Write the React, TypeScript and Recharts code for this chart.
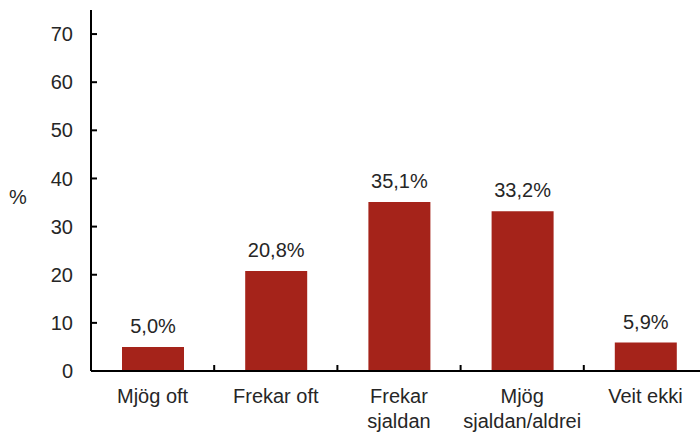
import { BarChart, Bar, XAxis, YAxis, LabelList, Label } from 'recharts';

const categories = ['Mjög oft', 'Frekar oft', 'Frekar sjaldan', 'Mjög sjaldan/aldrei', 'Veit ekki'];
const tickLines: string[][] = [['Mjög oft'], ['Frekar oft'], ['Frekar', 'sjaldan'], ['Mjög', 'sjaldan/aldrei'], ['Veit ekki']];
const values = [5.0, 20.8, 35.1, 33.2, 5.9];
const yTicks = [0, 10, 20, 30, 40, 50, 60, 70];

const data = categories.map((name, i) => ({ name, value: values[i], lines: tickLines[i] }));

const FONT = '"Liberation Sans", Arial, sans-serif';
const TEXT = '#262626';
const BAND = 616 / categories.length;

function formatPct(v: number) {
  return `${v.toFixed(1).replace('.', ',')}%`;
}

const CategoryTick = ({ x, y, index }: { x?: number; y?: number; index?: number }) => {
  const lines = tickLines[index ?? 0];
  const cx = x ?? 0;
  const cy = y ?? 0;
  return (
    <g>
      <line x1={cx + BAND / 2} x2={cx + BAND / 2} y1={cy} y2={cy - 6} stroke="#000" strokeWidth={2} />
      <text x={cx} y={cy + 32} textAnchor="middle" fontSize={20} fontFamily={FONT} fill={TEXT}>
        {lines.map((l, i) => (
          <tspan key={l} x={cx} dy={i === 0 ? 0 : 25}>{l}</tspan>
        ))}
      </text>
    </g>
  );
};

export default function App() {
  return (
    <div style={{ position: 'absolute', left: 0, top: 0, width: 700, height: 432, overflow: 'hidden', background: '#fff' }}>
      <BarChart width={710} height={432} data={data} margin={{ top: 10, right: 3, bottom: 0, left: 0 }}>
        <XAxis
          dataKey="name"
          height={61}
          tickLine={false}
          tickSize={0}
          tickMargin={0}
          interval={0}
          axisLine={{ stroke: '#000', strokeWidth: 2 }}
          tick={<CategoryTick />}
        />
        <YAxis
          width={91}
          domain={[0, 75]}
          ticks={yTicks}
          tickSize={-6}
          tickMargin={24}
          axisLine={{ stroke: '#000', strokeWidth: 2 }}
          tickLine={{ stroke: '#000', strokeWidth: 2 }}
          tick={{ fontSize: 20, fontFamily: FONT, fill: TEXT }}
        >
          <Label value="%" position="insideLeft" offset={9} dy={6} style={{ fontSize: 20, fontFamily: FONT, fill: TEXT }} />
        </YAxis>
        <Bar dataKey="value" fill="#A5231A" barSize={62} isAnimationActive={false}>
          <LabelList
            dataKey="value"
            position="top"
            offset={14}
            formatter={(v: number) => formatPct(v)}
            style={{ fontSize: 20, fontFamily: FONT, fill: TEXT }}
          />
        </Bar>
      </BarChart>
    </div>
  );
}
